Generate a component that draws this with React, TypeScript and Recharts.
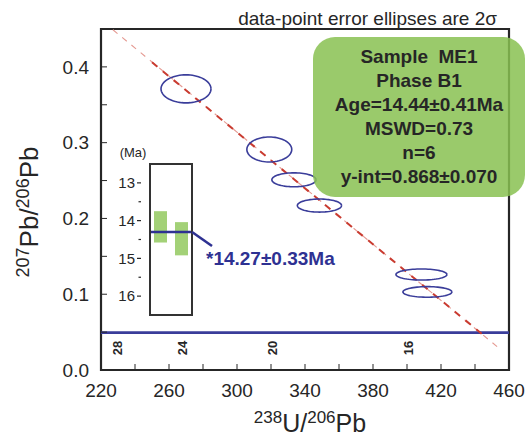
import React from "react";
import {
  Bar,
  BarChart,
  ReferenceArea,
  ReferenceLine,
  Scatter,
  ScatterChart,
  XAxis,
  YAxis,
} from "recharts";

const FONT = "'Liberation Sans', Arial, sans-serif";
const INK = "#262626";
const BLUE = "#3a3d9a";
const NAVY = "#2e3192";

// main axes
const xTicks = [220, 240, 260, 280, 300, 320, 340, 360, 380, 400, 420, 440, 460];
const xLabelled = [220, 260, 300, 340, 380, 420, 460];
const yTicks = [0, 0.05, 0.1, 0.15, 0.2, 0.25, 0.3, 0.35, 0.4];
const yLabelled = [0, 0.1, 0.2, 0.3, 0.4];

// 2-sigma error ellipses: centre + semi-axes (data units)
const ellX = [270, 319, 333.5, 348.5, 408.5, 412];
const ellY = [0.371, 0.291, 0.251, 0.217, 0.126, 0.103];
const ellRx = [14.7, 13.2, 13, 13, 15, 14.4];
const ellRy = [0.0185, 0.0165, 0.0092, 0.0086, 0.0073, 0.007];

// regression line (faint full extent, bold middle part)
const regressionFaint = [
  { x: 227, y: 0.449 },
  { x: 454, y: 0.029 },
];
const regressionBold = [
  { x: 250, y: 0.406 },
  { x: 446, y: 0.044 },
];

// concordia and its age marks (Ma)
const concordia = [
  { x: 220, y: 0.0493 },
  { x: 460, y: 0.0493 },
];
const ageLabels = ["28", "24", "20", "16"];
const ageX = [229.7, 268, 321, 400.6];
const ageY = 0.029;

// inset weighted-mean plot (Ma)
const insetNames = ["a", "b"];
const insetLow = [13.75, 14.04];
const insetHigh = [14.58, 14.92];
const insetMean = 14.3;
const insetTicks = [13, 13.5, 14, 14.5, 15, 15.5, 16];

const summary = [
  "Sample  ME1",
  "Phase B1",
  "Age=14.44±0.41Ma",
  "MSWD=0.73",
  "n=6",
  "y-int=0.868±0.070",
];

function ring(cx: number, cy: number, rx: number, ry: number) {
  const pts = [];
  for (let i = 0; i <= 72; i++) {
    const t = (i / 72) * Math.PI * 2;
    pts.push({ x: cx + rx * Math.cos(t), y: cy + ry * Math.sin(t) });
  }
  return pts;
}

const noDot = () => <g />;

function XTick(props: any) {
  const { x, y, payload } = props;
  const v = payload.value;
  return (
    <g>
      <line x1={x} x2={x} y1={y} y2={y - 6} stroke={INK} strokeWidth={1} />
      {xLabelled.includes(v) && (
        <text x={x} y={y + 27} textAnchor="middle" fontSize={19} fill={INK} fontFamily={FONT}>
          {v}
        </text>
      )}
    </g>
  );
}

function YTick(props: any) {
  const { x, y, payload } = props;
  const v = payload.value;
  const show = yLabelled.some((t) => Math.abs(t - v) < 1e-9);
  return (
    <g>
      <line x1={x} x2={x + 6} y1={y} y2={y} stroke={INK} strokeWidth={1} />
      {show && (
        <text x={x - 12} y={y} dy="0.35em" textAnchor="end" fontSize={19} fill={INK} fontFamily={FONT}>
          {v.toFixed(1)}
        </text>
      )}
    </g>
  );
}

function InsetTick(props: any) {
  const { x, y, payload } = props;
  const v = payload.value;
  const major = Number.isInteger(v);
  return (
    <g>
      <line x1={major ? x - 13 : x - 11.5} x2={x - 9} y1={y} y2={y} stroke={INK} strokeWidth={1.2} />
      {major && (
        <text x={x - 15} y={y} dy="0.35em" textAnchor="end" fontSize={15} fill={INK} fontFamily={FONT}>
          {v}
        </text>
      )}
    </g>
  );
}

export default function App() {
  const insetData = insetNames.map((name, i) => ({ name, range: [insetLow[i], insetHigh[i]] }));
  const ageData = ageX.map((x, i) => ({ x, y: ageY, label: ageLabels[i] }));

  return (
    <div
      style={{
        position: "absolute",
        left: 0,
        top: 0,
        width: 530,
        height: 440,
        background: "#fff",
        fontFamily: FONT,
      }}
    >
      <ScatterChart width={530} height={440} margin={{ top: 29, right: 21, bottom: 0, left: 0 }}>
        <XAxis
          type="number"
          dataKey="x"
          domain={[220, 460]}
          ticks={xTicks}
          interval={0}
          tick={(p: any) => <XTick {...p} />}
          tickLine={false}
          tickSize={0}
          tickMargin={0}
          axisLine={false}
          height={70}
          allowDataOverflow
        />
        <YAxis
          type="number"
          dataKey="y"
          domain={[0, 0.45]}
          ticks={yTicks}
          interval={0}
          tick={(p: any) => <YTick {...p} />}
          tickLine={false}
          tickSize={0}
          tickMargin={0}
          axisLine={false}
          width={101}
          allowDataOverflow
        />
        <ReferenceArea x1={220} x2={460} y1={0} y2={0.45} fill="none" stroke={INK} strokeWidth={2.2} />
        <Scatter
          data={concordia}
          line={{ stroke: BLUE, strokeWidth: 2.6 }}
          shape={noDot}
          isAnimationActive={false}
        />
        <Scatter
          data={regressionFaint}
          line={{ stroke: "#e59a92", strokeWidth: 1.1, strokeDasharray: "6 6" }}
          shape={noDot}
          isAnimationActive={false}
        />
        <Scatter
          data={regressionBold}
          line={{ stroke: "#c93b30", strokeWidth: 2, strokeDasharray: "7 7" }}
          shape={noDot}
          isAnimationActive={false}
        />
        {ellX.map((cx, i) => (
          <Scatter
            key={i}
            data={ring(cx, ellY[i], ellRx[i], ellRy[i])}
            line={{ stroke: BLUE, strokeWidth: 1.6 }}
            shape={noDot}
            isAnimationActive={false}
          />
        ))}
        <Scatter
          data={ageData}
          isAnimationActive={false}
          shape={(p: any) => (
            <text
              x={p.cx}
              y={p.cy}
              transform={`rotate(-90 ${p.cx} ${p.cy})`}
              textAnchor="middle"
              dominantBaseline="central"
              fontSize={13}
              fontWeight="bold"
              fill={INK}
              fontFamily={FONT}
            >
              {p.payload.label}
            </text>
          )}
        />
      </ScatterChart>

      <div style={{ position: "absolute", left: 110, top: 164 }}>
        <BarChart width={82} height={151} data={insetData} margin={{ top: 0, right: 0, bottom: 0, left: 0 }}>
          <XAxis dataKey="name" hide />
          <YAxis
            type="number"
            domain={[12.5, 16.5]}
            reversed
            ticks={insetTicks}
            interval={0}
            tick={(p: any) => <InsetTick {...p} />}
            tickLine={false}
            tickSize={0}
            tickMargin={0}
            axisLine={false}
            width={40}
            allowDataOverflow
          />
          <Bar dataKey="range" fill="#a3d177" barSize={13} isAnimationActive={false} />
          <ReferenceLine y={insetMean} stroke={NAVY} strokeWidth={2.6} />
        </BarChart>
      </div>
      <div
        style={{
          position: "absolute",
          left: 149,
          top: 163,
          width: 44,
          height: 153,
          border: "2px solid #333",
          boxSizing: "border-box",
        }}
      />

      <div
        style={{
          position: "absolute",
          left: 313,
          top: 37,
          width: 212,
          height: 160,
          borderRadius: 22,
          background: "rgba(136,193,81,0.85)",
          boxSizing: "border-box",
          paddingTop: 8,
          textAlign: "center",
          fontWeight: "bold",
          fontSize: 19,
          lineHeight: "24px",
          color: INK,
        }}
      >
        {summary.map((s) => (
          <div key={s} style={{ whiteSpace: "pre" }}>
            {s}
          </div>
        ))}
      </div>

      <svg
        width={530}
        height={440}
        style={{ position: "absolute", left: 0, top: 0, pointerEvents: "none" }}
        fontFamily={FONT}
      >
        <text x={497} y={25} textAnchor="end" fontSize={19} fill={INK}>
          data-point error ellipses are 2σ
        </text>
        <text x={310} y={432} textAnchor="middle" fontSize={25} fill={INK}>
          <tspan fontSize={17} dy={-9}>238</tspan>
          <tspan dy={9}>U/</tspan>
          <tspan fontSize={17} dy={-9}>206</tspan>
          <tspan dy={9}>Pb</tspan>
        </text>
        <text transform="translate(38,212) rotate(-90)" textAnchor="middle" fontSize={26} fill={INK}>
          <tspan fontSize={18} dy={-9}>207</tspan>
          <tspan dy={9}>Pb/</tspan>
          <tspan fontSize={18} dy={-9}>206</tspan>
          <tspan dy={9}>Pb</tspan>
        </text>
        <text x={133} y={157} textAnchor="middle" fontSize={13} fill={INK}>
          (Ma)
        </text>
        <line x1={192} y1={232} x2={212} y2={246} stroke={NAVY} strokeWidth={2.6} />
        <text x={206} y={265} fontSize={19} fontWeight="bold" fill={NAVY}>
          *14.27±0.33Ma
        </text>
      </svg>
    </div>
  );
}
